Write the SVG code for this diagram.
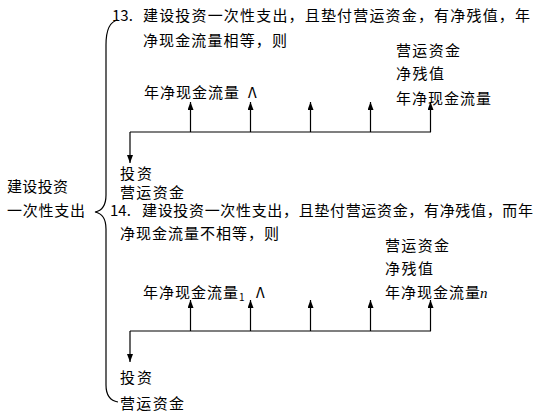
<svg xmlns="http://www.w3.org/2000/svg" width="537" height="416" viewBox="0 0 537 416">
<defs>
<style>
text{font-family:"Noto Sans CJK SC","Noto Sans CJK JP",sans-serif;font-size:15px;fill:#000;}
.ln{stroke:#000;stroke-width:1.2;fill:none;}
.sub{font-size:10px;}
.it{font-family:"Liberation Serif",serif;font-style:italic;font-size:15px;}
</style>
<marker id="ah" markerUnits="userSpaceOnUse" markerWidth="8" markerHeight="6" viewBox="0 0 8 6" refX="8" refY="3" orient="auto">
<path d="M0,0 L8,3 L0,6 Z" fill="#000"/>
</marker>
</defs>
<rect width="537" height="416" fill="#fff"/>

<g id="root">
<text x="7" y="192" textLength="61" lengthAdjust="spacing">建设投资</text>
<text x="7" y="216" textLength="78" lengthAdjust="spacing">一次性支出</text>
</g>

<g id="brace">
<path class="ln" d="M118,20 Q106,22 106,45 L106,195 Q106,210 95,212 Q106,214 106,229 L106,385 Q106,400 118,402"/>
</g>

<g id="case13">
<text x="112" y="21">13.</text>
<text x="143" y="21" textLength="387" lengthAdjust="spacing">建设投资一次性支出，且垫付营运资金，有净残值，年</text>
<text x="143" y="46" textLength="144" lengthAdjust="spacing">净现金流量相等，则</text>
<text x="396" y="56" textLength="64" lengthAdjust="spacing">营运资金</text>
<text x="396" y="79" textLength="48" lengthAdjust="spacing">净残值</text>
<text x="396" y="104" textLength="95" lengthAdjust="spacing">年净现金流量</text>
<text x="144" y="98" textLength="95" lengthAdjust="spacing">年净现金流量</text>
<text x="248" y="98">Λ</text>
<text x="120" y="179" textLength="32" lengthAdjust="spacing">投资</text>
<text x="120" y="198" textLength="64" lengthAdjust="spacing">营运资金</text>
</g>

<g id="case14">
<text x="110" y="216">14.</text>
<text x="142" y="216" textLength="391" lengthAdjust="spacing">建设投资一次性支出，且垫付营运资金，有净残值，而年</text>
<text x="120" y="239" textLength="159" lengthAdjust="spacing">净现金流量不相等，则</text>
<text x="385" y="251" textLength="64" lengthAdjust="spacing">营运资金</text>
<text x="385" y="274" textLength="48" lengthAdjust="spacing">净残值</text>
<text x="385" y="298" textLength="95" lengthAdjust="spacing">年净现金流量</text>
<text x="480" y="298" class="it">n</text>
<text x="143" y="298" textLength="95" lengthAdjust="spacing">年净现金流量</text>
<text x="239" y="301" class="sub">1</text>
<text x="256" y="298">Λ</text>
<text x="120" y="383" textLength="32" lengthAdjust="spacing">投资</text>
<text x="120" y="409" textLength="64" lengthAdjust="spacing">营运资金</text>
</g>

<g id="connectors">
<path class="ln" d="M130,132 H431"/>
<path class="ln" d="M130,132 V163" marker-end="url(#ah)"/>
<path class="ln" d="M190.5,132 V102" marker-end="url(#ah)"/>
<path class="ln" d="M250.5,132 V102" marker-end="url(#ah)"/>
<path class="ln" d="M310.5,132 V102" marker-end="url(#ah)"/>
<path class="ln" d="M370.5,132 V102" marker-end="url(#ah)"/>
<path class="ln" d="M430.5,132 V102" marker-end="url(#ah)"/>

<path class="ln" d="M130,331 H431"/>
<path class="ln" d="M130,331 V362" marker-end="url(#ah)"/>
<path class="ln" d="M190.5,331 V300" marker-end="url(#ah)"/>
<path class="ln" d="M250.5,331 V300" marker-end="url(#ah)"/>
<path class="ln" d="M310.5,331 V300" marker-end="url(#ah)"/>
<path class="ln" d="M370.5,331 V300" marker-end="url(#ah)"/>
<path class="ln" d="M430.5,331 V300" marker-end="url(#ah)"/>
</g>
</svg>
